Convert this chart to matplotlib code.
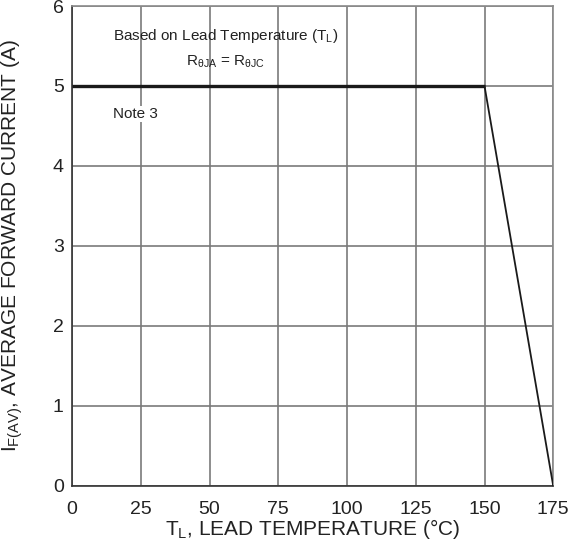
import matplotlib
matplotlib.use("Agg")
import matplotlib.pyplot as plt

plt.rcParams["font.family"] = ["Liberation Sans", "DejaVu Sans"]
plt.rcParams["mathtext.fontset"] = "custom"
plt.rcParams["mathtext.rm"] = "Liberation Sans"
plt.rcParams["mathtext.it"] = "Liberation Sans"
plt.rcParams["mathtext.default"] = "regular"

# derating curve: flat to 150 C, then linear down to 0 A at 175 C
lead_temp = [0, 150, 175]
fwd_current = [5, 5, 0]

x_ticks = [0, 25, 50, 75, 100, 125, 150, 175]
y_ticks = [0, 1, 2, 3, 4, 5, 6]

fig = plt.figure(figsize=(5.68, 5.46), dpi=100)
ax = fig.add_axes([0.127, 0.110, 0.847, 0.879])

ax.plot(lead_temp[:2], fwd_current[:2], color="#1a1a1a", linewidth=2.4,
        solid_capstyle="butt", zorder=4)
ax.plot(lead_temp[1:], fwd_current[1:], color="#1a1a1a", linewidth=1.3, zorder=4)

ax.set_xlim(x_ticks[0], x_ticks[-1])
ax.set_ylim(y_ticks[0], y_ticks[-1])
ax.set_xticks(x_ticks)
ax.set_yticks(y_ticks)
ax.tick_params(length=0, labelsize=14, colors="#222222")
ax.tick_params(axis="x", pad=11)
ax.tick_params(axis="y", pad=6)
ax.grid(True, color="#7a7a7a", linewidth=1.2)
ax.set_axisbelow(True)

for side in ("top", "right"):
    ax.spines[side].set_color("#8a8a8a")
    ax.spines[side].set_linewidth(1.2)
for side in ("left", "bottom"):
    ax.spines[side].set_color("#333333")
    ax.spines[side].set_linewidth(1.2)

ax.text(56.0, 5.575, "Based on Lead Temperature (T$_L$)", ha="center", va="baseline",
        fontsize=11, color="#222222")
ax.text(55.7, 5.25, "R$_{θJA}$ = R$_{θJC}$", ha="center", va="baseline",
        fontsize=11, color="#222222")
ax.text(23, 4.6, "Note 3", ha="center", va="baseline", fontsize=11, color="#222222",
        bbox=dict(facecolor="white", edgecolor="none", pad=1))

ax.set_xlabel("T$_L$, LEAD TEMPERATURE (°C)", fontsize=15, color="#222222")
ax.set_ylabel("I$_{F(AV)}$, AVERAGE FORWARD CURRENT (A)", fontsize=15, color="#222222")
ax.xaxis.set_label_coords(0.5, -0.064)
ax.yaxis.set_label_coords(-0.098, 0.5)

fig.savefig("out.png", dpi=100)
